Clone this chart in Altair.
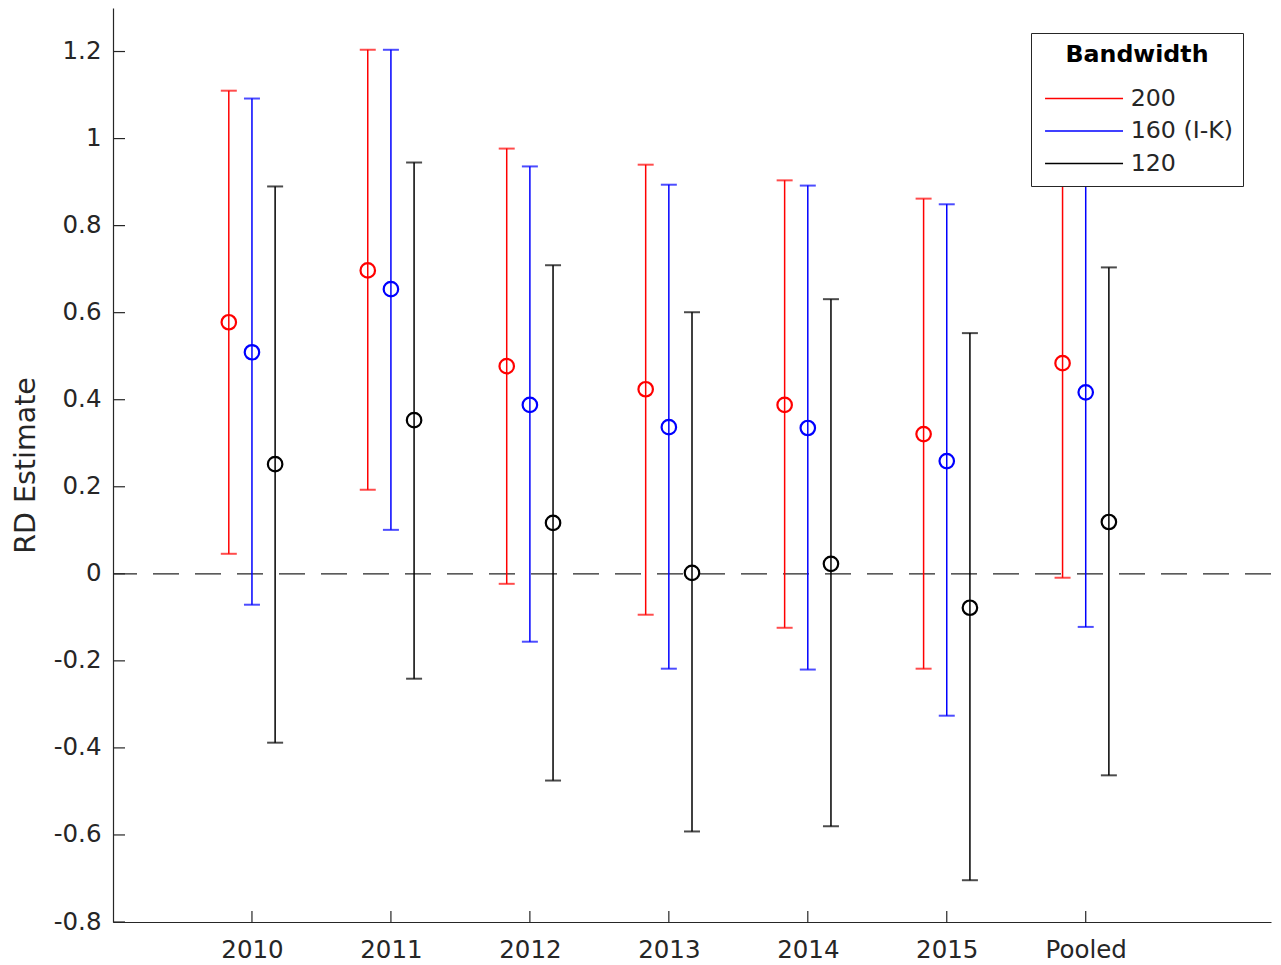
import altair as alt
import pandas as pd

groups = ["2010", "2011", "2012", "2013", "2014", "2015", "Pooled"]
series = ["200", "160 (I-K)", "120"]
colors = ["#ff0000", "#0000ff", "#000000"]

est_200 = [0.578, 0.697, 0.477, 0.424, 0.388, 0.321, 0.484]
lo_200 = [0.046, 0.193, -0.023, -0.094, -0.124, -0.218, -0.009]
hi_200 = [1.110, 1.204, 0.977, 0.940, 0.904, 0.862, 0.977]

est_160 = [0.509, 0.654, 0.388, 0.337, 0.335, 0.259, 0.417]
lo_160 = [-0.071, 0.101, -0.156, -0.218, -0.220, -0.326, -0.122]
hi_160 = [1.092, 1.204, 0.936, 0.894, 0.892, 0.849, 0.956]

est_120 = [0.252, 0.353, 0.117, 0.002, 0.023, -0.078, 0.119]
lo_120 = [-0.388, -0.241, -0.475, -0.592, -0.580, -0.704, -0.463]
hi_120 = [0.890, 0.945, 0.709, 0.601, 0.631, 0.553, 0.704]

y_ticks = [-0.8, -0.6, -0.4, -0.2, 0, 0.2, 0.4, 0.6, 0.8, 1.0, 1.2]

offsets = [-1 / 6, 0, 1 / 6]
all_est = [est_200, est_160, est_120]
all_lo = [lo_200, lo_160, lo_120]
all_hi = [hi_200, hi_160, hi_120]

rows = []
for s_i, s in enumerate(series):
    for g_i, g in enumerate(groups):
        rows.append({
            "group": g,
            "series": s,
            "xpos": g_i + 1 + offsets[s_i],
            "est": all_est[s_i][g_i],
            "lo": all_lo[s_i][g_i],
            "hi": all_hi[s_i][g_i],
        })
df = pd.DataFrame(rows)
xt = pd.DataFrame({"xpos": list(range(1, len(groups) + 1))})
yt = pd.DataFrame({"est": y_ticks})

FONT = "DejaVu Sans"
AX = "#262626"
W, H = 1158, 914

label_arr = "[''," + ",".join("'" + g + "'" for g in groups) + "]"

xscale = alt.Scale(domain=[0, 25 / 3], nice=False, zero=False)
yscale = alt.Scale(domain=[-0.8, 1.3], nice=False, zero=False)

xaxis = alt.Axis(values=list(range(1, len(groups) + 1)), labelExpr=label_arr + "[datum.value]",
                 title=None, grid=False, tickSize=0, labelPadding=16, labelFontSize=24.5,
                 labelFont=FONT, labelColor=AX, domainColor=AX, domainWidth=1.2,
                 labelFlush=False, labelOverlap=False)
yaxis = alt.Axis(values=y_ticks, labelExpr="'' + round(datum.value*10)/10",
                 title="RD Estimate", titleFontSize=28.5, titleFont=FONT, titleFontWeight="normal",
                 titleColor=AX, titlePadding=13, grid=False, tickSize=0, labelPadding=12,
                 labelFontSize=24.5, labelFont=FONT, labelColor=AX, domainColor=AX, domainWidth=1.2,
                 labelFlush=False, labelOverlap=False)

X = alt.X("xpos:Q", scale=xscale, axis=xaxis)
color_scale = alt.Scale(domain=series, range=colors)
legend = alt.Legend(title="Bandwidth", orient="none", legendX=918, legendY=25,
                    fillColor="white", strokeColor="#262626", padding=10,
                    titleFontSize=23.7, titleFontWeight="bold", titleFont=FONT, titleColor="#000000",
                    titleAnchor="middle", titlePadding=20,
                    labelFontSize=23.7, labelFont=FONT, labelColor="#262626", labelOffset=66,
                    symbolType="M-0.8,0L7.2,0", symbolSize=380, symbolStrokeWidth=1.4,
                    symbolOffset=0, rowPadding=7.5)

zero = alt.Chart(pd.DataFrame({"est": [0]})).mark_rule(
    color="#262626", strokeWidth=1.2, strokeDash=[26, 16]
).encode(y=alt.Y("est:Q", scale=yscale, axis=yaxis))

bars = alt.Chart(df).mark_rule(strokeWidth=1.5).encode(
    x=X,
    y=alt.Y("lo:Q", scale=yscale, axis=yaxis),
    y2="hi:Q",
    color=alt.Color("series:N", scale=color_scale, sort=series, legend=legend),
)
cap_lo = alt.Chart(df).mark_tick(orient="horizontal", size=16, thickness=2).encode(
    x=X, y=alt.Y("lo:Q", scale=yscale, axis=yaxis),
    color=alt.Color("series:N", scale=color_scale, sort=series, legend=None),
)
cap_hi = alt.Chart(df).mark_tick(orient="horizontal", size=16, thickness=2).encode(
    x=X, y=alt.Y("hi:Q", scale=yscale, axis=yaxis),
    color=alt.Color("series:N", scale=color_scale, sort=series, legend=None),
)
pts = alt.Chart(df).mark_point(shape="circle", filled=False, size=210, strokeWidth=2.2, opacity=1).encode(
    x=X, y=alt.Y("est:Q", scale=yscale, axis=yaxis),
    color=alt.Color("series:N", scale=color_scale, sort=series, legend=None),
)
ytick_marks = alt.Chart(yt).mark_rule(color=AX, strokeWidth=1.2).encode(
    y=alt.Y("est:Q", scale=yscale, axis=yaxis),
    x=alt.value(0), x2=alt.value(12),
)
xtick_marks = alt.Chart(xt).mark_rule(color=AX, strokeWidth=1.2).encode(
    x=X, y=alt.value(H), y2=alt.value(H - 11),
)

chart = alt.layer(zero, bars, cap_lo, cap_hi, pts, ytick_marks, xtick_marks).properties(
    width=W, height=H,
    autosize=alt.AutoSizeParams(type="none"),
    padding={"left": 105, "top": 0, "right": 2, "bottom": 40},
).configure_view(stroke=None, fill="white")

chart.save("out.html", embed_options={"renderer": "svg", "actions": False})
